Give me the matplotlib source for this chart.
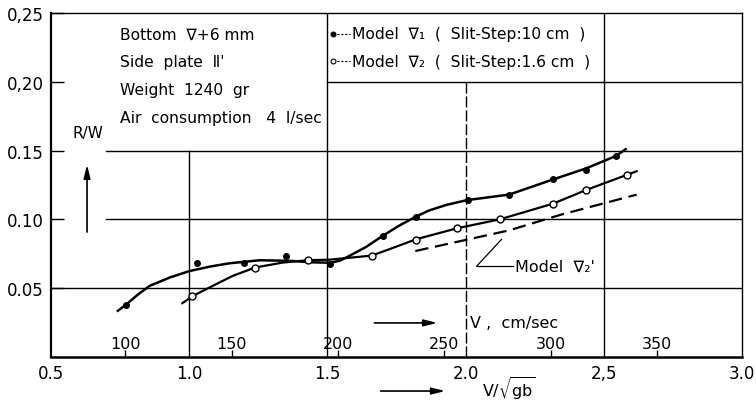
import numpy as np
import matplotlib
matplotlib.use('Agg')
from matplotlib import pyplot as plt

plt.rcParams.update({'font.family': ['DejaVu Sans'],
                     'mathtext.fontset': 'dejavusans'})

# measured points, model 1 (filled) and model 2 (open)
m1_x = [0.771, 1.028, 1.197, 1.351, 1.510, 1.700, 1.820, 2.007, 2.157, 2.316, 2.436, 2.544]
m1_y = [0.0379, 0.0681, 0.0681, 0.0734, 0.0679, 0.0879, 0.102, 0.114, 0.1176, 0.1295, 0.136, 0.146]
m2_x = [1.011, 1.238, 1.429, 1.660, 1.820, 1.968, 2.123, 2.316, 2.434, 2.584]
m2_y = [0.044, 0.065, 0.0703, 0.0734, 0.085, 0.0935, 0.100, 0.1114, 0.1212, 0.1324]

# faired curves as drawn by hand
c1_x = [0.742, 0.774, 0.815, 0.857, 0.930, 1.002, 1.075, 1.146, 1.255, 1.363, 1.442, 1.511, 1.545,
        1.579, 1.640, 1.699, 1.760, 1.820, 1.868, 1.930, 2.005, 2.157, 2.316, 2.435, 2.543, 2.579]
c1_y = [0.0336, 0.0384, 0.0455, 0.0517, 0.0578, 0.0625, 0.0657, 0.0681, 0.0703, 0.0699, 0.0688,
        0.0685, 0.0700, 0.0734, 0.0800, 0.0879, 0.0955, 0.102, 0.1065, 0.1105, 0.114, 0.118,
        0.129, 0.137, 0.146, 0.151]
c2_x = [0.975, 1.011, 1.038, 1.100, 1.157, 1.238, 1.338, 1.428, 1.507, 1.579, 1.661,
        1.740, 1.820, 1.968, 2.123, 2.316, 2.434, 2.584, 2.619]
c2_y = [0.0391, 0.044, 0.0469, 0.0532, 0.0589, 0.065, 0.0686, 0.0703, 0.0707, 0.0721, 0.0737,
        0.0795, 0.0855, 0.0935, 0.100, 0.1114, 0.1212, 0.1324, 0.135]
# model V2' (dashed, no points)
c3_x = [1.818, 2.157, 2.348, 2.619]
c3_y = [0.077, 0.092, 0.1036, 0.118]

x_ticks = [0.5, 1.0, 1.5, 2.0, 2.5, 3.0]
x_labels = ['0.5', '1.0', '1.5', '2.0', '2,5', '3.0']
y_ticks = [0.05, 0.10, 0.15, 0.20, 0.25]
y_labels = ['0.05', '0.10', '0.15', '0,20', '0,25']
v_cm = [100, 150, 200, 250, 300, 350]
sqrt_gb = 130.0

fig = plt.figure(figsize=(7.56, 4.02), dpi=100)
ax = fig.add_axes([0.0675, 0.1095, 0.914, 0.8557])
ax.set_xlim(0.5, 3.0)
ax.set_ylim(0.0, 0.25)

k = 'black'
ax.spines['left'].set_linewidth(1.6)
ax.spines['bottom'].set_linewidth(1.8)
ax.spines['top'].set_linewidth(1.0)
ax.spines['right'].set_linewidth(1.0)

ax.set_xticks(x_ticks)
ax.set_xticklabels(x_labels, fontsize=12)
ax.set_yticks(y_ticks)
ax.set_yticklabels(y_labels, fontsize=12)
ax.tick_params(axis='x', length=0, pad=5)
ax.tick_params(axis='y', direction='in', length=9, width=1.0, pad=5)

# grid lines, broken around the text blocks
gl = dict(color=k, lw=1.0, zorder=1)
ax.plot([0.5, 3.0], [0.05, 0.05], **gl)
ax.plot([0.70, 3.0], [0.10, 0.10], **gl)
ax.plot([0.70, 3.0], [0.15, 0.15], **gl)
ax.plot([1.5, 3.0], [0.20, 0.20], **gl)
ax.plot([1.0, 1.0], [0.0, 0.15], **gl)
ax.plot([1.5, 1.5], [0.0, 0.25], **gl)
ax.plot([2.0, 2.0], [0.0, 0.20], color=k, lw=1.0, ls=(0, (8, 2)), zorder=1)
ax.plot([2.5, 2.5], [0.0, 0.25], **gl)

# curves and points
ax.plot(c1_x, c1_y, color=k, lw=1.8, zorder=3)
ax.plot(c2_x, c2_y, color=k, lw=1.6, zorder=3)
ax.plot(c3_x, c3_y, color=k, lw=1.6, ls=(0, (6, 3)), zorder=3)
ax.plot(m1_x, m1_y, 'o', color=k, ms=4, zorder=4)
ax.plot(m2_x, m2_y, 'o', mfc='white', mec=k, mew=1.0, ms=5, zorder=4)

# V (cm/sec) scale along the bottom
v_pos = [v / sqrt_gb for v in v_cm]
ax.vlines(v_pos, 0, 0.005, color=k, lw=1.0)
for p, v in zip(v_pos, v_cm):
    ax.text(p, 0.0095, str(v), ha='center', va='center', fontsize=11.5)
ax.annotate('', xy=(0.563, 0.099), xytext=(0.464, 0.099), xycoords='axes fraction',
            arrowprops=dict(arrowstyle='-|>,head_length=0.8,head_width=0.2', color=k, lw=1.2))
ax.text(0.606, 0.099, 'V ,  cm/sec', transform=ax.transAxes, ha='left', va='center', fontsize=11.5)

# lower axis label
ax.annotate('', xy=(0.5745, -0.099), xytext=(0.473, -0.099), xycoords='axes fraction',
            arrowprops=dict(arrowstyle='-|>,head_length=0.8,head_width=0.2', color=k, lw=1.2),
            annotation_clip=False)
ax.text(0.663, -0.093, r'V/$\sqrt{\mathregular{gb}}$', transform=ax.transAxes,
        ha='center', va='center', fontsize=11.5)

# R/W label
ax.text(0.0535, 0.654, 'R/W', transform=ax.transAxes, ha='center', va='center', fontsize=11)
ax.annotate('', xy=(0.0521, 0.567), xytext=(0.0521, 0.355), xycoords='axes fraction',
            arrowprops=dict(arrowstyle='-|>,head_length=0.8,head_width=0.2', color=k, lw=1.2))

# condition block
info = ['Bottom  \u2207+6 mm', "Side  plate  \u2161'", 'Weight  1240  gr',
        'Air  consumption   4  l/sec']
for i, s in enumerate(info):
    ax.text(0.10, 0.939 - i * 0.0805, s, transform=ax.transAxes, ha='left', va='center',
            fontsize=11.2)

# legend block
leg = ['Model  \u2207\u2081  (  Slit-Step:10 cm  )', 'Model  \u2207\u2082  (  Slit-Step:1.6 cm  )']
fills = [k, 'white']
for i, (s, fc) in enumerate(zip(leg, fills)):
    yy = 0.939 - i * 0.079
    ax.plot([0.408, 0.432], [yy, yy], transform=ax.transAxes, color=k, lw=0.8, ls=(0, (2, 1.5)))
    ax.plot([0.408], [yy], 'o', transform=ax.transAxes, mfc=fc, mec=k, ms=3.5, mew=0.8)
    ax.text(0.436, yy, s, transform=ax.transAxes, ha='left', va='center', fontsize=11.2)

# Model V2' label with leader
ax.plot([2.04, 2.17], [0.066, 0.066], color=k, lw=0.9)
ax.plot([2.04, 2.13], [0.066, 0.0855], color=k, lw=0.9)
ax.text(2.18, 0.066, "Model  \u2207\u2082'", ha='left', va='center', fontsize=11.5)

plt.savefig('out.png', dpi=100)
